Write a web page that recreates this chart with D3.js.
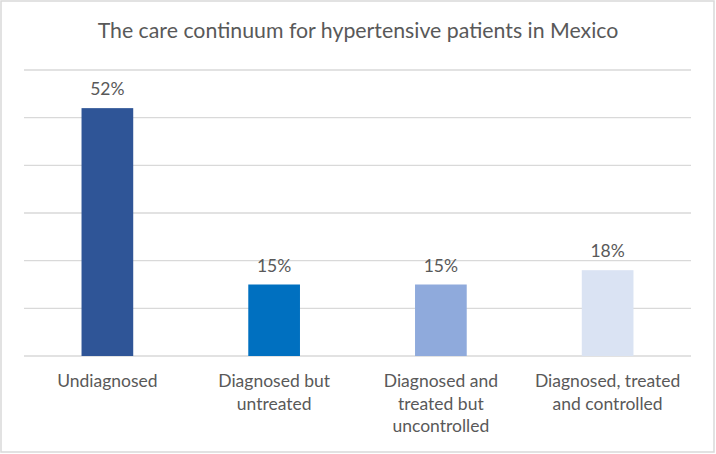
<!DOCTYPE html>
<html>
<head>
<meta charset="utf-8">
<script src="https://cdn.jsdelivr.net/npm/d3@7"></script>
<style>
  html, body { margin: 0; padding: 0; background: #fff; }
  #chart { width: 716px; height: 454px; }
  text { font-family: Lato, "Open Sans", sans-serif; fill: #595959; }
</style>
</head>
<body>
<div id="chart"></div>
<script>
// The care continuum for hypertensive patients in Mexico
const categories = ['Undiagnosed', 'Diagnosed but untreated', 'Diagnosed and treated but uncontrolled', 'Diagnosed, treated and controlled'];
const values = [52, 15, 15, 18];
const barColors = ['#2F5597', '#0070C0', '#8FAADC', '#DAE3F3'];
const yTicks = [0, 10, 20, 30, 40, 50, 60];
const title = 'The care continuum for hypertensive patients in Mexico';

(function(){
  const w = 716, h = 454;
  const m = {top: 70, right: 25, bottom: 98, left: 24};
  const svg = d3.select('#chart').append('svg').attr('width', w).attr('height', h);

  // outer frame
  svg.append('rect').attr('x', 1).attr('y', 1).attr('width', w - 3).attr('height', h - 3)
    .attr('fill', '#fff').attr('stroke', '#d9d9d9').attr('stroke-width', 1.5);

  const x = d3.scaleBand().domain(categories).range([m.left, w - m.right]).paddingInner(0.69).paddingOuter(0.345);
  const y = d3.scaleLinear().domain([0, 60]).range([h - m.bottom, m.top]);

  // gridlines
  svg.append('g').selectAll('line').data(yTicks).enter().append('line')
    .attr('x1', m.left).attr('x2', w - m.right)
    .attr('y1', d => y(d)).attr('y2', d => y(d))
    .attr('stroke', '#d9d9d9').attr('stroke-width', 1.3);

  // bars
  svg.append('g').selectAll('rect').data(values).enter().append('rect')
    .attr('x', (d, i) => x(categories[i])).attr('width', x.bandwidth())
    .attr('y', d => y(d)).attr('height', d => y(0) - y(d))
    .attr('fill', (d, i) => barColors[i]);

  // value labels
  svg.append('g').selectAll('text').data(values).enter().append('text')
    .attr('x', (d, i) => x(categories[i]) + x.bandwidth() / 2)
    .attr('y', d => y(d) - 13)
    .attr('text-anchor', 'middle').attr('font-size', '17.5px')
    .text(d => d + '%');

  // category labels, wrapped
  const maxW = 150;
  const labels = svg.append('g').selectAll('text').data(categories).enter().append('text')
    .attr('x', d => x(d) + x.bandwidth() / 2)
    .attr('y', y(0) + 31)
    .attr('text-anchor', 'middle').attr('font-size', '17.5px');
  labels.each(function(d){
    const t = d3.select(this);
    const words = d.split(' ');
    let line = [], lines = [];
    const probe = t.append('tspan');
    words.forEach(wd => {
      const test = line.concat(wd).join(' ');
      probe.text(test);
      if (probe.node().getComputedTextLength() > maxW && line.length) { lines.push(line.join(' ')); line = [wd]; }
      else line.push(wd);
    });
    lines.push(line.join(' '));
    probe.remove();
    lines.forEach((l, i) => t.append('tspan').attr('x', t.attr('x')).attr('dy', i ? 22.5 : 0).text(l));
  });

  svg.append('text').attr('x', w / 2).attr('y', 38).attr('text-anchor', 'middle')
    .attr('font-size', '21.3px').text(title);
})();
</script>
</body>
</html>
